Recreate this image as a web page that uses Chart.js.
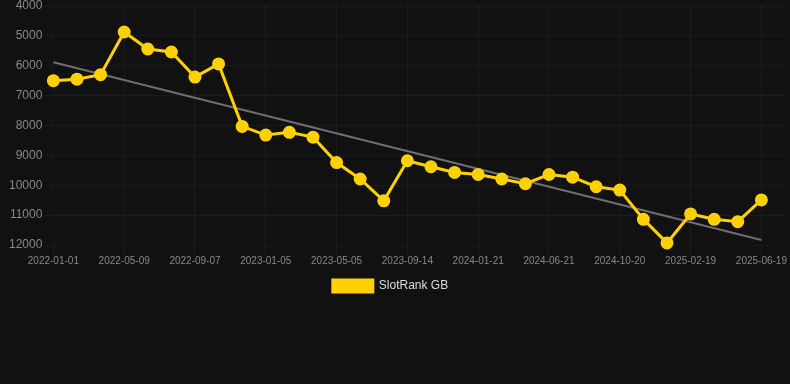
<!DOCTYPE html>
<html>
<head>
<meta charset="utf-8">
<script src="https://cdn.jsdelivr.net/npm/chart.js@4"></script>
<style>
  html, body { margin: 0; padding: 0; background: #111111; }
  #wrap { position: relative; width: 790px; height: 302px; }
</style>
</head>
<body>
<div id="wrap"><canvas id="rankChart"></canvas></div>
<script>
// Define the data
const dates = [
    "2022-01-01", "2022-02-12", "2022-03-26", "2022-05-09", "2022-06-18", "2022-07-28",
    "2022-09-07", "2022-10-17", "2022-11-26", "2023-01-05", "2023-02-14", "2023-03-26",
    "2023-05-05", "2023-06-18", "2023-07-31", "2023-09-14", "2023-10-27", "2023-12-09",
    "2024-01-21", "2024-03-11", "2024-05-01", "2024-06-21", "2024-07-31", "2024-09-09",
    "2024-10-20", "2024-11-30", "2025-01-09", "2025-02-19", "2025-03-31", "2025-05-10",
    "2025-06-19", "2025-07-29"
];

const ranks = [
    6500, 6450, 6300, 4870, 5440, 5540, 6380, 5940, 8030, 8320, 8230, 8390,
    9240, 9790, 10520, 9180, 9380, 9570, 9640, 9790, 9950, 9640, 9730, 10050,
    10160, 11140, 11930, 10960, 11140, 11220, 10490
];

// trend line end points
const trendStart = 5880;
const trendEnd = 11830;

const trend = ranks.map((v, i) => i === 0 ? trendStart : (i === ranks.length - 1 ? trendEnd : null));

// the legend in the original sits a little left of centre
const legendNudge = {
    id: 'legendNudge',
    afterLayout(chart) {
        chart.legend.left -= 5;
        chart.legend.right -= 5;
    }
};

const ctx = document.getElementById('rankChart').getContext('2d');

new Chart(ctx, {
    type: 'line',
    data: {
        labels: dates,
        datasets: [{
            label: 'SlotRank GB',
            data: ranks,
            borderColor: '#ffd100',
            backgroundColor: '#ffd100',
            borderWidth: 3,
            pointRadius: 5,
            pointHoverRadius: 6,
            tension: 0,
            clip: false
        }, {
            label: 'Trend',
            data: trend,
            borderColor: '#6f6f6f',
            borderWidth: 2,
            pointRadius: 0,
            spanGaps: true,
            tension: 0
        }]
    },
    plugins: [legendNudge],
    options: {
        responsive: true,
        maintainAspectRatio: false,
        animation: false,
        layout: { autoPadding: false, padding: { left: 6, right: 5, top: 6 } },
        scales: {
            x: {
                grid: { color: 'rgba(255,255,255,0.045)', tickLength: 10 },
                ticks: {
                    color: '#888',
                    padding: 0,
                    font: { family: 'Arial, "Liberation Sans", sans-serif', size: 10 },
                    autoSkip: true,
                    maxRotation: 0
                }
            },
            y: {
                reverse: true,
                min: 4000,
                max: 12000,
                grid: { color: 'rgba(255,255,255,0.045)' },
                ticks: {
                    stepSize: 1000,
                    color: '#888',
                    font: { family: 'Arial, "Liberation Sans", sans-serif', size: 12, lineHeight: 0.5 },
                    callback: value => String(value)
                }
            }
        },
        plugins: {
            legend: {
                position: 'bottom',
                labels: {
                    color: '#ddd',
                    padding: 13,
                    font: { family: 'Arial, "Liberation Sans", sans-serif', size: 12 },
                    filter: item => item.datasetIndex === 0
                }
            },
            tooltip: { enabled: false }
        }
    }
});
</script>
</body>
</html>
